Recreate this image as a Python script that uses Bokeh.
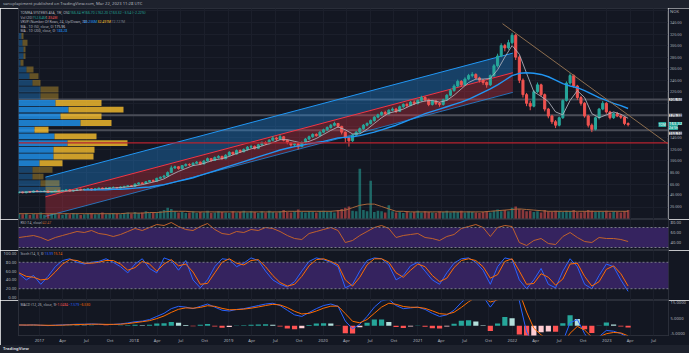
import pandas as pd
from bokeh.plotting import figure
from bokeh.layouts import column, row
from bokeh.models import (Range1d, LinearAxis, FixedTicker, Label, Span, Grid, Div,
                          NumeralTickFormatter, ColumnDataSource, BoxAnnotation)
from bokeh.embed import file_html
from bokeh.resources import INLINE

# ---------------- data ----------------
candle_start = "2016-10-14"     # one candle every 14 days
first_open = 45.0
closes = [46, 45, 47, 46, 48, 47, 47, 48, 46, 47, 49, 48, 49, 50, 48, 49, 51, 50, 51, 52,
          50, 52, 53, 52, 53, 54, 54, 53, 55, 56, 57, 56, 60, 62, 61, 64, 66, 65, 70, 72,
          74, 80, 88, 90, 87, 92, 94, 93, 96, 98, 95, 100, 104, 101, 106, 108, 104, 110, 115, 112,
          118, 116, 120, 124, 125, 122, 128, 132, 130, 136, 140, 138, 142, 136, 132, 128, 130, 125, 132, 138,
          142, 146, 144, 150, 154, 158, 162, 165, 160, 150, 140, 135, 145, 150, 156, 162, 165, 170, 176, 180,
          184, 182, 188, 190, 186, 194, 198, 196, 202, 200, 205, 210, 206, 198, 204, 200, 198, 206, 214, 222,
          230, 238, 232, 242, 248, 250, 244, 240, 236, 232, 248, 265, 282, 300, 296, 305, 318, 280, 240, 215,
          200, 195, 220, 232, 215, 190, 178, 168, 162, 175, 205, 235, 248, 230, 210, 200, 178, 162, 155, 175,
          190, 200, 185, 175, 182, 178, 176, 165, 163]
highs = [47, 47, 48, 48, 49, 49, 49, 49, 49, 48, 50, 50, 50, 51, 51, 50, 52, 52, 52, 53,
         53, 53, 54, 54, 55, 55, 56, 55, 56, 57, 58, 58, 61, 63, 63, 65, 67, 68, 71, 73,
         76, 82, 92, 92, 91, 93, 96, 96, 98, 100, 99, 102, 106, 105, 108, 110, 109, 112, 117, 116,
         120, 120, 122, 126, 128, 127, 130, 134, 134, 138, 143, 142, 145, 143, 137, 133, 132, 131, 134, 140,
         144, 148, 148, 152, 156, 160, 164, 168, 166, 161, 151, 142, 147, 152, 158, 164, 167, 172, 178, 182,
         186, 187, 190, 193, 192, 196, 200, 201, 204, 205, 207, 213, 212, 208, 206, 206, 202, 208, 216, 225,
         233, 241, 240, 245, 251, 254, 252, 246, 242, 238, 250, 268, 286, 304, 303, 310, 322, 320, 283, 243,
         218, 204, 223, 236, 234, 217, 192, 180, 171, 177, 207, 238, 252, 250, 232, 213, 202, 180, 165, 177,
         192, 204, 202, 187, 184, 185, 181, 177, 167]
lows = [44, 44, 44, 45, 45, 46, 46, 46, 45, 45, 46, 47, 47, 48, 47, 47, 48, 49, 49, 50,
        49, 49, 51, 51, 51, 52, 53, 52, 52, 54, 55, 55, 55, 59, 60, 60, 63, 64, 64, 69,
        71, 73, 79, 86, 85, 86, 90, 91, 92, 95, 93, 94, 99, 99, 100, 104, 102, 103, 108, 110,
        111, 114, 115, 118, 122, 120, 121, 126, 128, 129, 134, 135, 137, 134, 129, 125, 126, 120, 124, 130,
        136, 140, 142, 143, 148, 152, 156, 160, 157, 146, 132, 125, 133, 143, 148, 154, 160, 163, 168, 174,
        178, 179, 180, 186, 183, 185, 192, 193, 195, 197, 198, 203, 203, 195, 196, 197, 194, 196, 204, 212,
        220, 228, 229, 230, 240, 245, 241, 236, 232, 227, 230, 246, 262, 280, 290, 293, 302, 275, 235, 210,
        195, 188, 193, 218, 212, 186, 174, 164, 157, 160, 173, 203, 232, 227, 206, 196, 175, 158, 150, 153,
        172, 188, 182, 172, 173, 176, 173, 162, 160]
volumes = [8, 7, 9, 6, 8, 7, 10, 6, 7, 8, 9, 7, 6, 8, 7, 9, 8, 6, 7, 8,
           9, 7, 8, 10, 7, 8, 9, 8, 7, 9, 10, 8, 11, 9, 10, 12, 9, 11, 10, 12,
           14, 18, 16, 12, 10, 11, 9, 10, 12, 9, 11, 10, 13, 9, 10, 12, 11, 10, 9, 12,
           10, 11, 13, 10, 12, 11, 9, 12, 10, 13, 11, 10, 12, 14, 11, 10, 12, 15, 11, 10,
           12, 11, 10, 12, 13, 11, 12, 10, 14, 16, 18, 20, 13, 12, 83, 14, 12, 63, 11, 13,
           12, 10, 22, 12, 10, 11, 9, 12, 10, 11, 13, 10, 12, 11, 10, 9, 12, 11, 13, 10,
           12, 11, 13, 10, 12, 11, 10, 9, 11, 12, 10, 13, 15, 12, 14, 12, 18, 20, 16, 14,
           12, 13, 11, 12, 10, 14, 12, 11, 13, 12, 11, 13, 12, 14, 11, 10, 12, 14, 13, 11,
           12, 11, 13, 10, 12, 11, 10, 12, 14]

osc_start = "2016-10-14"        # one indicator point every 28 days
NaN = float("nan")
ma50 = [46, 46, 47, 47, 47, 47, 48, 48, 49, 50, 50, 51, 52, 53, 54, 55, 57, 59, 62, 65,
        69, 76, 82, 87, 92, 94, 98, 102, 104, 108, 113, 117, 121, 124, 128, 132, 137, 137, 134, 131,
        134, 139, 146, 153, 159, 154, 147, 147, 155, 165, 175, 183, 186, 190, 196, 201, 204, 205, 202, 205,
        214, 225, 236, 242, 242, 243, 258, 280, 300, 285, 252, 220, 212, 203, 185, 180, 205, 222, 210, 182,
        175, 180, 185, 181, 174]
ma200 = [NaN] * 9 + [50, 50, 50, 50, 51, 51, 52, 53, 54, 55, 57,
        59, 62, 65, 68, 71, 75, 79, 83, 87, 91, 95, 99, 103, 107, 111, 115, 119, 122, 125, 127,
        130, 132, 134, 137, 140, 141, 142, 144, 147, 150, 154, 158, 162, 167, 172, 177, 182, 186, 190, 194,
        198, 202, 207, 213, 219, 225, 232, 240, 248, 252, 253, 252, 250, 246, 240, 234, 230, 227, 222, 216,
        210, 205, 200, 196, 191]
vol_ma = [8, 8, 8, 8, 8, 8, 8, 8, 8, 8, 8, 8, 8, 8, 8, 9, 9, 9, 10, 10,
          11, 12, 12, 12, 11, 11, 11, 11, 11, 11, 11, 11, 11, 11, 11, 11, 11, 12, 12, 12,
          12, 12, 12, 12, 13, 14, 18, 22, 24, 24, 20, 16, 12, 12, 11, 11, 11, 11, 11, 11,
          11, 11, 11, 11, 11, 12, 13, 14, 15, 16, 15, 14, 13, 12, 12, 12, 12, 12, 12, 12,
          12, 12, 12, 12, 12]
rsi = [50, 52, 54, 50, 44, 50, 54, 58, 62, 60, 64, 58, 56, 52, 56, 62, 68, 64, 70, 76,
       74, 80, 72, 66, 64, 72, 78, 66, 58, 56, 62, 60, 66, 64, 70, 68, 62, 54, 48, 46,
       58, 62, 66, 70, 64, 40, 44, 54, 62, 70, 74, 68, 50, 54, 56, 58, 50, 48, 44, 52,
       56, 68, 72, 76, 70, 52, 70, 74, 72, 40, 34, 44, 48, 38, 36, 52, 60, 50, 42, 40,
       50, 48, 48, 46, 42]
stoch_k = [54, 40, 50, 30, 48, 70, 84, 88, 80, 76, 80, 82, 88, 80, 70, 56, 76, 88, 66, 56,
           90, 84, 62, 84, 40, 22, 40, 70, 88, 86, 70, 78, 90, 84, 60, 40, 30, 24, 36, 60,
           82, 90, 86, 80, 70, 22, 30, 60, 84, 90, 88, 74, 40, 50, 72, 80, 60, 40, 30, 56,
           78, 88, 90, 80, 62, 30, 70, 90, 86, 40, 20, 40, 66, 30, 22, 60, 88, 70, 30, 20,
           50, 76, 70, 40, 14]
stoch_d = [56, 48, 46, 40, 42, 58, 76, 86, 84, 78, 78, 80, 84, 84, 76, 62, 68, 82, 76, 60,
           76, 86, 72, 76, 58, 30, 32, 56, 80, 88, 78, 74, 84, 86, 70, 50, 34, 26, 30, 48,
           72, 86, 88, 82, 74, 40, 26, 46, 74, 88, 88, 80, 56, 46, 62, 76, 70, 50, 36, 44,
           68, 84, 88, 84, 70, 44, 52, 82, 88, 60, 30, 32, 54, 46, 28, 42, 76, 78, 48, 26,
           36, 64, 72, 54, 26]
macd_line = [0.5, 0.4, 0.6, 0.3, 0.1, 0.4, 0.6, 0.8, 1.0, 1.0, 1.2, 1.0, 0.8, 0.9, 1.2, 1.8, 2.6, 3.0, 4.0, 6.0,
             8.0, 11.0, 12.5, 12.0, 11.0, 12.5, 14.0, 12.0, 10.0, 9.5, 10.5, 11.0, 12.0, 13.0, 14.0, 14.5, 13.0, 10.0, 7.0, 6.0,
             8.5, 11.0, 13.0, 14.0, 12.5, 3.0, -2.0, 1.0, 6.0, 12.0, 16.0, 17.0, 13.0, 11.0, 11.5, 12.0, 10.5, 8.0, 6.0, 7.0,
             10.0, 15.0, 19.0, 21.0, 19.0, 12.0, 18.0, 28.0, 32.0, 16.0, -4.0, -12.0, -10.0, -13.0, -17.0, -10.0, 2.0, 4.0, -5.0, -12.0,
             -7.0, -3.0, -3.5, -5.0, -7.6]
macd_signal = [0.5, 0.5, 0.5, 0.4, 0.3, 0.3, 0.4, 0.6, 0.8, 0.9, 1.0, 1.0, 0.9, 0.9, 1.0, 1.4, 2.0, 2.6, 3.3, 4.6,
               6.3, 8.6, 10.6, 11.5, 11.3, 11.8, 12.9, 12.5, 11.2, 10.3, 10.4, 10.7, 11.3, 12.1, 13.0, 13.8, 13.4, 11.7, 9.3, 7.6,
               8.0, 9.5, 11.3, 12.6, 12.6, 7.8, 2.9, 1.9, 4.0, 8.0, 12.0, 14.5, 13.8, 12.4, 11.9, 11.9, 11.2, 9.6, 7.8, 7.4,
               8.7, 11.8, 15.4, 18.2, 18.6, 15.3, 16.6, 22.3, 27.2, 21.6, 8.8, -1.6, -5.8, -9.4, -13.2, -11.6, -4.8, -0.4, -2.7, -7.3,
               -7.2, -5.1, -4.3, -4.6, -6.5]

# volume profile (visible range), 24 rows
vp_row_low = [44.0, 55.6, 67.2, 78.8, 90.4, 102.0, 113.6, 125.2, 136.8, 148.4, 160.0, 171.6,
              183.2, 194.8, 206.4, 218.0, 229.6, 241.2, 252.8, 264.4, 276.0, 287.6, 299.2, 310.8]
vp_row_height = 11.6
vp_up = [2.7, 2.2, 1.4, 1.4, 2.1, 3.5, 3.5, 4.9, 3.6, 1.6, 6.2, 4.2, 5.0, 3.7, 2.2, 2.2, 1.4, 1.1, 0.8, 0.2, 0.5, 0.5, 0.4, 0.3]
vp_down = [1.5, 1.9, 1.1, 2.0, 2.3, 4.0, 4.1, 6.0, 4.2, 1.4, 3.1, 4.1, 5.5, 4.6, 1.8, 1.8, 0.8, 0.9, 0.7, 0.3, 0.2, 0.2, 0.5, 0.2]
value_area_rows = (4, 13)
poc_price = 131.5

# regression channel, trend line, horizontal levels
channel_dates = ["2017-01-24", "2022-01-03"]
channel_mid = [38, 253]
channel_dev = 34
trend_dates = ["2021-11-24", "2023-08-24"]
trend_prices = [338, 130]
levels = [206.50, 179.38, 153.10]
last_price = 163.32

tick_dates = ["2017-01-01", "2017-04-01", "2017-07-01", "2017-10-01", "2018-01-01", "2018-04-01", "2018-07-01",
              "2018-10-01", "2019-01-01", "2019-04-01", "2019-07-01", "2019-10-01", "2020-01-01", "2020-04-01",
              "2020-07-01", "2020-10-01", "2021-01-01", "2021-04-01", "2021-07-01", "2021-10-01", "2022-01-01",
              "2022-04-01", "2022-07-01", "2022-10-01", "2023-01-01", "2023-04-01", "2023-07-01"]
tick_labels = ["2017", "Apr", "Jul", "Oct", "2018", "Apr", "Jul", "Oct", "2019", "Apr", "Jul", "Oct", "2020", "Apr",
               "Jul", "Oct", "2021", "Apr", "Jul", "Oct", "2022", "Apr", "Jul", "Oct", "2023", "Apr", "Jul"]
price_ticks = [60, 80, 100, 120, 140, 220, 240, 260, 280, 300, 320, 340]
vol_ticks = [20, 40]

# ---------------- style ----------------
BG = "#131722"
PANEL = "#1e222d"
GRIDC = "#1b1f2b"
SEP = "#2a2e39"
TXT = "#b2b5be"
UP = "#26a69a"
DN = "#ef5350"
BLUE = "#2962ff"
ORANGE = "#ff6d00"
PURPLE = "#35235f"
FONT = "Noto Sans"
FS = "4.2px"      # axis labels
LS = "3.4px"      # legend texts
DAY = 86400000

xr = Range1d(pd.Timestamp("2016-10-12"), pd.Timestamp("2023-08-27"))
tick_ms = [pd.Timestamp(t).value // 10**6 for t in tick_dates]


def pane(width, height, y0, y1, right=21, bottom=0):
    f = figure(width=width, height=height, x_range=xr, y_range=Range1d(y0, y1),
               x_axis_location=None, y_axis_location=None, output_backend="svg",
               toolbar_location=None, min_border_left=18, min_border_right=right,
               min_border_top=0, min_border_bottom=bottom,
               background_fill_color=BG, border_fill_color=BG, outline_line_color=SEP)
    f.grid.grid_line_color = None
    f.add_layout(Grid(dimension=0, ticker=FixedTicker(ticks=tick_ms), grid_line_color=GRIDC))
    return f


def axis(f, side, ticks, fmt="0.00"):
    a = LinearAxis(ticker=FixedTicker(ticks=ticks), formatter=NumeralTickFormatter(format=fmt),
                   major_tick_out=0, major_tick_in=0, minor_tick_out=0, minor_tick_in=0,
                   axis_line_color=None, major_label_standoff=2,
                   major_label_text_font=FONT, major_label_text_font_size=FS,
                   major_label_text_color=TXT)
    f.add_layout(a, side)
    return a


def txt(f, x, y, text, color=TXT, size=LS, **kw):
    f.add_layout(Label(x=x, y=y, x_units="screen", y_units="screen", text=text,
                       text_color=color, text_font=FONT, text_font_size=size,
                       text_baseline="middle", **kw))


# ---------------- main pane (chart + its own price-scale strip) ----------------
main = pane(668, 211, -1.4, 364.3, right=0)
main.extra_y_ranges = {"vol": Range1d(-1.67, 350)}
main.extra_x_ranges = {"vp": Range1d(0, 65)}
main.add_layout(Grid(dimension=1, ticker=FixedTicker(ticks=list(range(20, 361, 20))), grid_line_color=GRIDC))

cdx = pd.to_datetime(channel_dates)
upper = [m + channel_dev for m in channel_mid]
lower = [m - channel_dev for m in channel_mid]
main.varea(x=cdx, y1=channel_mid, y2=upper, fill_color="#2196f3", fill_alpha=0.33)
main.varea(x=cdx, y1=lower, y2=channel_mid, fill_color="#f23645", fill_alpha=0.3)
main.line(x=cdx, y=upper, line_color="#2196f3", line_width=1)
main.line(x=cdx, y=channel_mid, line_color="#f23645", line_width=1)
main.line(x=cdx, y=lower, line_color="#2196f3", line_width=1, line_alpha=0.7)

for lv in levels:
    main.add_layout(Span(location=lv, dimension="width", line_color="#4a4d57", line_width=2, level="underlay"))
main.add_layout(Span(location=poc_price, dimension="width", line_color="#b7232f", line_width=1.2))

rc = [lo + vp_row_height / 2 for lo in vp_row_low]
in_va = [value_area_rows[0] <= i <= value_area_rows[1] for i in range(len(vp_row_low))]
vsrc = ColumnDataSource(dict(y=rc, up=vp_up, tot=[u + d for u, d in zip(vp_up, vp_down)],
                             a=[0.8 if v else 0.35 for v in in_va]))
main.hbar(y="y", height=vp_row_height * 0.88, left=0, right="up", source=vsrc, x_range_name="vp",
          fill_color="#2196f3", fill_alpha="a", line_color=None)
main.hbar(y="y", height=vp_row_height * 0.88, left="up", right="tot", source=vsrc, x_range_name="vp",
          fill_color="#fbc02d", fill_alpha="a", line_color=None)

cd = pd.date_range(candle_start, periods=len(closes), freq="14D")
opens = [first_open] + closes[:-1]
cols = [UP if c >= o else DN for o, c in zip(opens, closes)]
src = ColumnDataSource(dict(x=cd, o=opens, c=closes, h=highs, l=lows, v=volumes, col=cols))
main.vbar(x="x", width=10 * DAY, top="v", bottom=0, source=src, y_range_name="vol",
          fill_color="col", fill_alpha=0.55, line_color=None)
od = pd.date_range(osc_start, periods=len(rsi), freq="28D")
main.line(x=od, y=vol_ma, y_range_name="vol", line_color="#a8683c", line_width=1)
main.segment(x0="x", y0="h", x1="x", y1="l", source=src, line_color="col", line_width=1)
main.vbar(x="x", width=8 * DAY, top="o", bottom="c", source=src, fill_color="col", line_color="col")
main.line(x=od, y=ma50, line_color="#b2b5be", line_width=1, line_alpha=0.85)
main.line(x=od, y=ma200, line_color="#2196f3", line_width=1.4)
main.line(x=pd.to_datetime(trend_dates), y=trend_prices, line_color="#8d6e4f", line_width=1)
main.add_layout(Label(x=640, x_units="screen", y=last_price, text="TOM", text_color="#ffffff",
                      background_fill_color=UP, text_font=FONT, text_font_size=LS, text_baseline="middle"))

# legend lines (top-left of the pane)
txt(main, 2, 207, "TOMRA SYSTEMS ASA, 1W, OSL")
txt(main, 49, 207, "O166.34 H166.70 L162.20 C163.32 −3.54 (−2.22%)", UP)
txt(main, 2, 202.5, "Vol (20)")
txt(main, 14, 202.5, "752.646K", UP)
txt(main, 27, 202.5, "1.834M", DN)
txt(main, 2, 198, "VRVP (Number Of Rows, 24, Up/Down, 70)")
txt(main, 65, 198, "40.236M", "#2196f3")
txt(main, 79, 198, "32.491M", "#fbc02d")
txt(main, 93, 198, "72.727M", "#787b86")
txt(main, 2, 193.5, "MA - 1D (50, close, 0)")
txt(main, 36, 193.5, "175.96", "#d1d4dc")
txt(main, 2, 189, "MA - 1D (200, close, 0)")
txt(main, 38, 189, "188.28", "#2196f3")

# price scale strip
ps = figure(width=21, height=211, x_range=Range1d(0, 21), y_range=main.y_range,
            x_axis_location=None, y_axis_location=None, output_backend="svg", toolbar_location=None,
            min_border=0, background_fill_color=BG, border_fill_color=BG, outline_line_color=None)
ps.grid.grid_line_color = None
ps.extra_y_ranges = {"vol": main.extra_y_ranges["vol"]}
ps.text(x=[1.5] * len(price_ticks), y=price_ticks, text=[f"{t:.2f}" for t in price_ticks],
        text_font=FONT, text_font_size=FS, text_color=TXT, text_baseline="middle")
ps.text(x=[1.5] * len(vol_ticks), y=vol_ticks, y_range_name="vol", text=[f"{t}.000" for t in vol_ticks],
        text_font=FONT, text_font_size=FS, text_color=TXT, text_baseline="middle")
ps.add_layout(Label(x=1.5, y=208, x_units="screen", y_units="screen", text="NOK", text_color=TXT,
                    text_font=FONT, text_font_size=FS, text_baseline="middle"))
for lv, dy in zip(levels, (0, 0, -3)):
    ps.add_layout(Label(x=0.5, y=lv, y_offset=dy, text=f"{lv:.2f}", text_color=BG,
                        background_fill_color="#d1d4dc", text_font=FONT, text_font_size=FS,
                        text_baseline="middle"))
ps.add_layout(Label(x=0.5, y=last_price, y_offset=1, text=f"{last_price:.2f}", text_color="#ffffff",
                    background_fill_color=UP, text_font=FONT, text_font_size=FS, text_baseline="middle"))
ps.add_layout(Label(x=0.5, y=last_price, y_offset=-3, text="2d 5h", text_color="#ffffff",
                    background_fill_color=UP, text_font=FONT, text_font_size=LS, text_baseline="middle"))

# ---------------- RSI ----------------
rsi_p = pane(689, 31, 24, 86)
axis(rsi_p, "right", [40, 60, 80])
rsi_p.add_layout(BoxAnnotation(bottom=30, top=70, fill_color=PURPLE, fill_alpha=1, line_color=None, level="underlay"))
for lv in (30, 70):
    rsi_p.add_layout(Span(location=lv, dimension="width", line_color="#787b86", line_dash="2 2", line_width=1))
rsi_p.line(x=od, y=rsi, line_color="#c0622c", line_width=1)
txt(rsi_p, 2, 28, "RSI (14, close)")
txt(rsi_p, 24, 28, "42.47", "#c0622c")

# ---------------- Stoch ----------------
st = pane(689, 50, -6.8, 106.8)
axis(st, "left", [0, 20, 40, 60, 80, 100])
st.add_layout(BoxAnnotation(bottom=20, top=80, fill_color=PURPLE, fill_alpha=1, line_color=None, level="underlay"))
for lv in (20, 80):
    st.add_layout(Span(location=lv, dimension="width", line_color="#787b86", line_dash="2 2", line_width=1))
st.line(x=od, y=stoch_k, line_color=BLUE, line_width=1)
st.line(x=od, y=stoch_d, line_color=ORANGE, line_width=1)
txt(st, 2, 47, "Stoch (14, 3, 3)")
txt(st, 26, 47, "13.99", BLUE)
txt(st, 35, 47, "15.14", ORANGE)

# ---------------- MACD ----------------
mp = pane(689, 45, -6.25, 16.25, bottom=9)
axis(mp, "right", [-5, 5, 15], fmt="0.0000")
xa = LinearAxis(ticker=FixedTicker(ticks=tick_ms), major_label_overrides=dict(zip(tick_ms, tick_labels)),
                major_tick_out=0, major_tick_in=0, minor_tick_out=0, minor_tick_in=0, axis_line_color=None,
                major_label_standoff=2, major_label_text_font=FONT, major_label_text_font_size=FS,
                major_label_text_color=TXT)
mp.add_layout(xa, "below")
hist = [m - s for m, s in zip(macd_line, macd_signal)]
hcol = []
for i, h in enumerate(hist):
    prev = hist[i - 1] if i else h
    if h >= 0:
        hcol.append(UP if h >= prev else "#b2dfdb")
    else:
        hcol.append("#ffcdd2" if h >= prev else "#ff5252")
mp.vbar(x=od, width=20 * DAY, top=hist, bottom=0, fill_color=hcol, line_color=None)
mp.line(x=od, y=macd_line, line_color=BLUE, line_width=1)
mp.line(x=od, y=macd_signal, line_color=ORANGE, line_width=1)
txt(mp, 2, 31, "MACD (12, 26, close, 9)")
txt(mp, 37, 31, "−1.0484", DN)
txt(mp, 50, 31, "−7.579", BLUE)
txt(mp, 61, 31, "−6.530", ORANGE)

# ---------------- header / footer ----------------
strip_style = {"background-color": PANEL, "color": TXT, "font-family": FONT, "font-size": "4.2px",
               "line-height": "8px", "white-space": "nowrap", "overflow": "hidden"}
head = Div(text='<span style="padding-left:3px">sanoplapiment published on TradingView.com, Mar 22, 2023 11:28 UTC</span>',
           width=689, height=8, margin=0, styles=strip_style)
foot = Div(text='<span style="padding-left:3px;font-weight:bold;color:#d1d4dc">TradingView</span>',
           width=689, height=8, margin=0, styles=strip_style)

layout = column(head, row(main, ps, spacing=0), rsi_p, st, mp, foot, spacing=0)
open("out.html", "w").write(file_html(layout, INLINE))
